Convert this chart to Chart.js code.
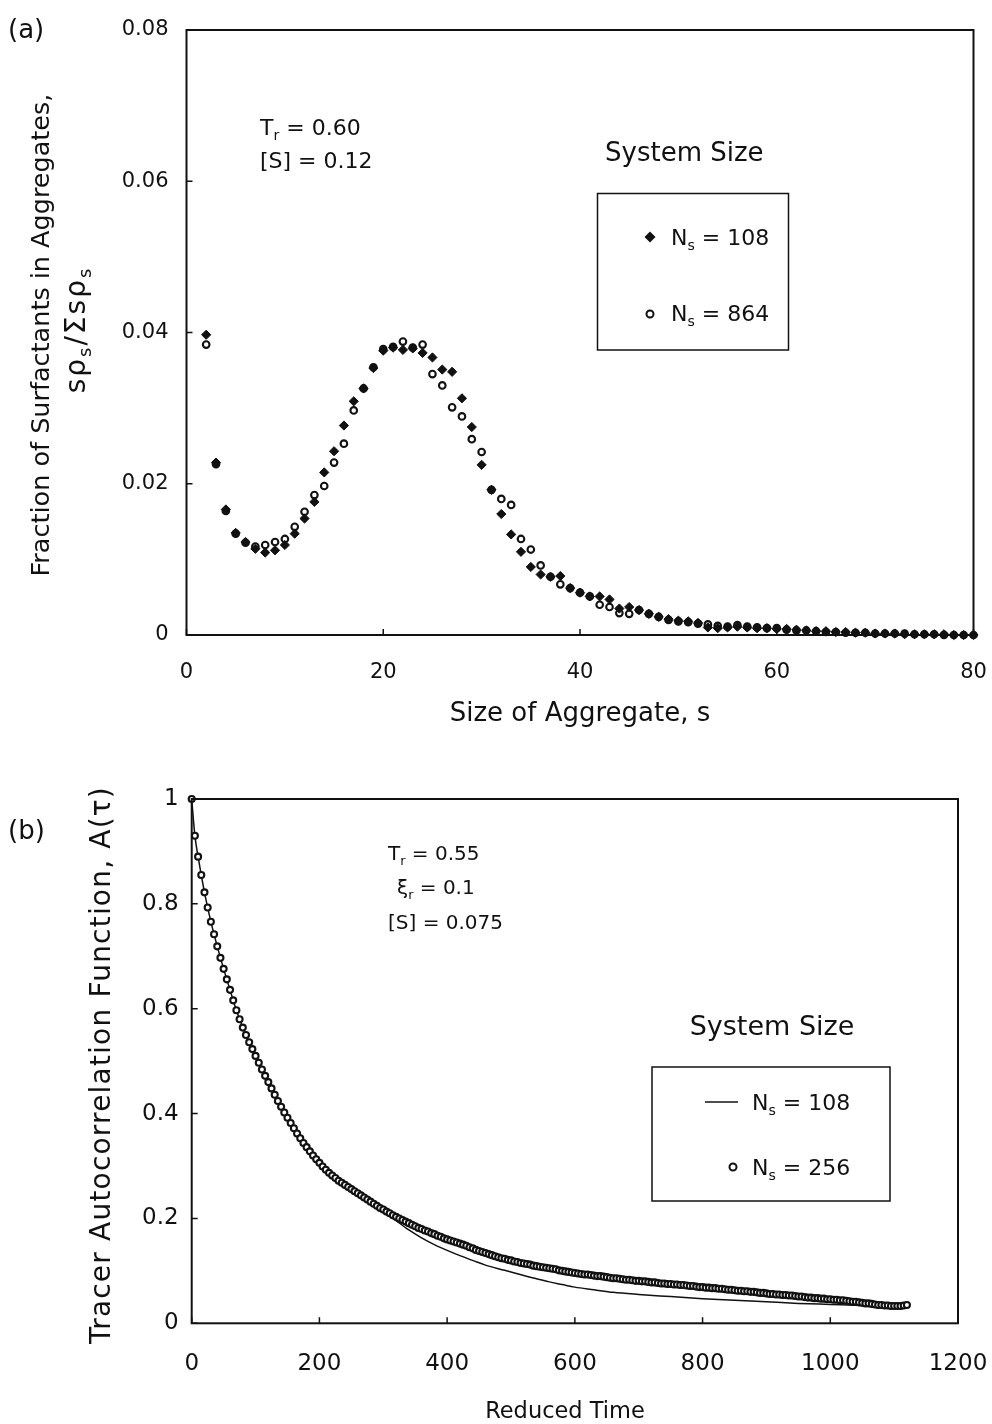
<!DOCTYPE html>
<html>
<head>
<meta charset="utf-8">
<script src="https://cdn.jsdelivr.net/npm/chart.js@4/dist/chart.umd.min.js"></script>
<style>
  html, body { margin: 0; padding: 0; background: #fff; }
  #wrap { position: relative; width: 992px; height: 1424px; }
  canvas { position: absolute; left: 0; }
  #chartA { top: 0; }
  #chartB { top: 740px; }
</style>
</head>
<body>
<div id="wrap">
  <canvas id="chartA" width="992" height="740"></canvas>
  <canvas id="chartB" width="992" height="684"></canvas>
</div>
<script>
// ---- (a) aggregate size distribution ----
var S_SIZE = [2,3,4,5,6,7,8,9,10,11,12,13,14,15,16,17,18,19,20,21,22,23,24,25,26,27,28,29,30,31,
  32,33,34,35,36,37,38,39,40,41,42,43,44,45,46,47,48,49,50,51,52,53,54,55,56,57,58,59,60,61,
  62,63,64,65,66,67,68,69,70,71,72,73,74,75,76,77,78,79,80];
var FRAC_108 = [0.0397,0.0228,0.0166,0.0135,0.0123,0.0114,0.0109,0.0112,0.0119,0.0134,
  0.0154,0.0176,0.0215,0.0243,0.0277,0.0309,0.0326,0.0353,0.0376,0.0380,
  0.0377,0.0379,0.0373,0.0367,0.0351,0.0348,0.0313,0.0275,0.0225,0.0192,
  0.0160,0.0133,0.0110,0.0090,0.0080,0.0077,0.0078,0.0062,0.0056,0.0051,
  0.0051,0.0047,0.0035,0.0037,0.0033,0.0028,0.0024,0.0021,0.0019,0.0018,
  0.0016,0.0010,0.0009,0.0010,0.0011,0.0010,0.0009,0.0009,0.0008,0.0008,
  0.0007,0.0006,0.0005,0.0005,0.0004,0.0004,0.0003,0.0003,0.0002,0.0002,
  0.0002,0.0001,0.0001,0.0001,0.0001,0.0001,0.0000,0.0000,0.0000];
var FRAC_864 = [0.0384,0.0226,0.0164,0.0134,0.0122,0.0117,0.0119,0.0123,0.0127,0.0143,
  0.0163,0.0185,0.0197,0.0228,0.0253,0.0297,0.0326,0.0354,0.0378,0.0381,
  0.0388,0.0380,0.0384,0.0345,0.0330,0.0301,0.0289,0.0259,0.0242,0.0192,
  0.0180,0.0172,0.0127,0.0113,0.0092,0.0077,0.0067,0.0062,0.0056,0.0051,
  0.0040,0.0037,0.0029,0.0028,0.0033,0.0028,0.0024,0.0020,0.0018,0.0017,
  0.0015,0.0014,0.0012,0.0011,0.0013,0.0011,0.0010,0.0009,0.0009,0.0007,
  0.0006,0.0006,0.0005,0.0004,0.0004,0.0003,0.0003,0.0003,0.0002,0.0002,
  0.0002,0.0002,0.0001,0.0001,0.0001,0.0000,0.0000,0.0000,0.0000];

// ---- (b) tracer autocorrelation ----
var TAU_256 = [0,5,10,15,20,25,30,35,40,45,50,55,60,65,70,75,80,85,90,95,
  100,105,110,115,120,125,130,135,140,145,150,155,160,165,170,175,180,185,190,195,
  200,205,210,215,220,225,230,235,240,245,250,255,260,265,270,275,280,285,290,295,
  300,305,310,315,320,325,330,335,340,345,350,355,360,365,370,375,380,385,390,395,
  400,405,410,415,420,425,430,435,440,445,450,455,460,465,470,475,480,485,490,495,
  500,505,510,515,520,525,530,535,540,545,550,555,560,565,570,575,580,585,590,595,
  600,605,610,615,620,625,630,635,640,645,650,655,660,665,670,675,680,685,690,695,
  700,705,710,715,720,725,730,735,740,745,750,755,760,765,770,775,780,785,790,795,
  800,805,810,815,820,825,830,835,840,845,850,855,860,865,870,875,880,885,890,895,
  900,905,910,915,920,925,930,935,940,945,950,955,960,965,970,975,980,985,990,995,
  1000,1005,1010,1015,1020,1025,1030,1035,1040,1045,1050,1055,1060,1065,1070,1075,1080,1085,1090,1095,
  1100,1105,1110,1115,1120];
var A_256 = [1.000,0.930,0.890,0.855,0.822,0.793,0.766,0.742,0.719,0.697,0.676,0.656,0.636,0.616,0.597,0.580,0.564,0.550,0.536,0.523,
  0.510,0.497,0.484,0.472,0.460,0.448,0.436,0.424,0.413,0.402,0.392,0.382,0.372,0.362,0.353,0.344,0.336,0.328,0.320,0.313,
  0.306,0.299,0.293,0.287,0.282,0.277,0.272,0.268,0.264,0.260,0.256,0.252,0.248,0.244,0.240,0.236,0.232,0.228,0.224,0.220,
  0.217,0.213,0.210,0.206,0.203,0.200,0.197,0.194,0.191,0.188,0.185,0.182,0.180,0.177,0.175,0.172,0.170,0.167,0.165,0.162,
  0.160,0.158,0.156,0.154,0.152,0.150,0.148,0.145,0.143,0.140,0.138,0.136,0.134,0.132,0.130,0.128,0.126,0.124,0.123,0.121,
  0.120,0.118,0.117,0.115,0.114,0.113,0.112,0.110,0.109,0.108,0.107,0.106,0.105,0.104,0.103,0.101,0.100,0.099,0.098,0.097,
  0.096,0.095,0.094,0.093,0.093,0.092,0.091,0.090,0.090,0.089,0.088,0.087,0.086,0.086,0.085,0.084,0.083,0.083,0.082,0.081,
  0.081,0.080,0.080,0.079,0.078,0.078,0.077,0.076,0.076,0.075,0.075,0.074,0.074,0.073,0.073,0.072,0.071,0.071,0.070,0.069,
  0.069,0.068,0.068,0.067,0.067,0.066,0.066,0.065,0.064,0.064,0.063,0.062,0.062,0.061,0.061,0.060,0.060,0.059,0.058,0.058,
  0.057,0.056,0.056,0.055,0.055,0.054,0.054,0.053,0.053,0.052,0.051,0.051,0.050,0.049,0.049,0.048,0.048,0.047,0.047,0.046,
  0.046,0.045,0.045,0.044,0.044,0.043,0.042,0.041,0.041,0.040,0.039,0.038,0.038,0.037,0.036,0.035,0.035,0.034,0.034,0.033,
  0.033,0.033,0.033,0.034,0.035];
var TAU_108 = [0,5,10,20,30,40,50,60,70,80,90,100,120,140,160,180,200,220,240,260,280,300,320,340,360,380,
  400,420,440,460,480,500,520,540,560,580,600,630,660,700,750,800,850,900,950,1000,1050,1090];
var A_108 = [1.000,0.930,0.890,0.822,0.766,0.719,0.676,0.636,0.597,0.564,0.536,0.510,0.460,0.413,0.372,0.336,0.306,0.282,0.264,0.248,0.232,0.214,0.196,0.178,0.163,0.150,
  0.139,0.129,0.120,0.111,0.104,0.098,0.091,0.085,0.079,0.074,0.069,0.064,0.059,0.055,0.051,0.047,0.044,0.041,0.038,0.036,0.034,0.033];

var INK = '#111';
var FONT = "'DejaVu Sans', sans-serif";

function pairs(xs, ys) {
  return xs.map(function (x, i) { return { x: x, y: ys[i] }; });
}
function plainNum(v) { return String(+v.toFixed(4)); }

// text with subscripts: parts beginning with '_' are set small and low
function rich(ctx, parts, x, cy, size, align, spacing) {
  var pieces = parts.map(function (p) {
    return p.charAt(0) === '_' ? { t: p.slice(1), s: size * 0.64, dy: size * 0.22 } : { t: p, s: size, dy: 0 };
  });
  ctx.letterSpacing = (spacing || 0) + 'px';
  var w = 0;
  pieces.forEach(function (p) { ctx.font = p.s + 'px ' + FONT; p.w = ctx.measureText(p.t).width; w += p.w; });
  var cx = align === 'center' ? x - w / 2 : (align === 'right' ? x - w : x);
  var base = cy + size * 0.36;
  ctx.textAlign = 'left'; ctx.textBaseline = 'alphabetic'; ctx.fillStyle = INK;
  pieces.forEach(function (p) { ctx.font = p.s + 'px ' + FONT; ctx.fillText(p.t, cx, base + p.dy); cx += p.w; });
  ctx.letterSpacing = '0px';
}
function richV(ctx, parts, cx, cy, size, spacing) {
  ctx.save(); ctx.translate(cx, cy); ctx.rotate(-Math.PI / 2);
  rich(ctx, parts, 0, 0, size, 'center', spacing);
  ctx.restore();
}
function frameAndTicks(chart) {
  var ctx = chart.ctx, a = chart.chartArea, x = chart.scales.x, y = chart.scales.y;
  ctx.save();
  ctx.strokeStyle = INK; ctx.lineWidth = 2;
  ctx.strokeRect(a.left, a.top, a.right - a.left, a.bottom - a.top);
  ctx.lineWidth = 1.5; ctx.beginPath();
  x.ticks.forEach(function (t) { var px = x.getPixelForValue(t.value); ctx.moveTo(px, a.bottom); ctx.lineTo(px, a.bottom - 6); });
  y.ticks.forEach(function (t) { var py = y.getPixelForValue(t.value); ctx.moveTo(a.left, py); ctx.lineTo(a.left + 6, py); });
  ctx.stroke();
  ctx.restore();
}
function diamond(ctx, x, y, r) {
  ctx.beginPath(); ctx.moveTo(x - r, y); ctx.lineTo(x, y - r); ctx.lineTo(x + r, y); ctx.lineTo(x, y + r); ctx.closePath();
  ctx.fillStyle = INK; ctx.fill();
}
function ring(ctx, x, y, r) {
  ctx.beginPath(); ctx.arc(x, y, r, 0, Math.PI * 2);
  ctx.fillStyle = '#fff'; ctx.fill(); ctx.lineWidth = 2; ctx.strokeStyle = INK; ctx.stroke();
}

var decorA = {
  id: 'decorA',
  afterDraw: function (chart) {
    var ctx = chart.ctx;
    frameAndTicks(chart);
    ctx.save();
    rich(ctx, ['(a)'], 8, 29, 26, 'left');
    rich(ctx, ['T', '_r', ' = 0.60'], 260, 127, 22, 'left');
    rich(ctx, ['[S] = 0.12'], 260, 160, 22, 'left');
    rich(ctx, ['System Size'], 605, 152, 26, 'left');
    ctx.lineWidth = 1.5; ctx.strokeStyle = INK;
    ctx.strokeRect(597.5, 193.5, 191, 156.5);
    diamond(ctx, 650, 237, 5.5);
    rich(ctx, ['N', '_s', ' = 108'], 671, 237, 22, 'left');
    ring(ctx, 650, 314, 3.5);
    rich(ctx, ['N', '_s', ' = 864'], 671, 313, 22, 'left');
    rich(ctx, ['Size of Aggregate, s'], 580, 712, 26, 'center');
    richV(ctx, ['Fraction of Surfactants in Aggregates,'], 40, 335, 25.5);
    richV(ctx, ['s\u03c1', '_s', '/\u03a3s\u03c1', '_s'], 75, 330, 28, 2);
    ctx.restore();
  }
};

var OY = 740; // top of the second canvas on the page
var decorB = {
  id: 'decorB',
  afterDraw: function (chart) {
    var ctx = chart.ctx;
    frameAndTicks(chart);
    ctx.save();
    ctx.translate(0, -OY);
    rich(ctx, ['(b)'], 8, 830, 26, 'left');
    rich(ctx, ['T', '_r', ' = 0.55'], 388, 853, 20, 'left');
    rich(ctx, ['\u03be', '_r', ' = 0.1'], 397, 887, 20, 'left');
    rich(ctx, ['[S] = 0.075'], 388, 922, 20, 'left');
    rich(ctx, ['System Size'], 772, 1025, 27, 'center');
    ctx.lineWidth = 1.5; ctx.strokeStyle = INK;
    ctx.strokeRect(652, 1067, 238, 134);
    ctx.beginPath(); ctx.moveTo(705, 1102); ctx.lineTo(738, 1102); ctx.stroke();
    rich(ctx, ['N', '_s', ' = 108'], 752, 1102, 22, 'left');
    ring(ctx, 733, 1167, 3.5);
    rich(ctx, ['N', '_s', ' = 256'], 752, 1167, 22, 'left');
    rich(ctx, ['Reduced Time'], 565, 1410, 22.5, 'center');
    richV(ctx, ['Tracer Autocorrelation Function, A(\u03c4)'], 100, 1065, 28, 1.2);
    ctx.restore();
  }
};

function axisCfg(min, max, step, size, pad, fit) {
  return {
    type: 'linear', min: min, max: max,
    ticks: { stepSize: step, padding: pad, color: INK, font: { family: FONT, size: size }, callback: plainNum, maxRotation: 0 },
    grid: { display: false, drawTicks: false },
    border: { display: false },
    afterFit: fit
  };
}
// pin the axis boxes so the plot frames land where the figure has them
function fixX(h) { return function (s) { s.height = h; s.paddingLeft = 0; s.paddingRight = 0; }; }
function fixY(w) { return function (s) { s.width = w; s.paddingTop = 0; s.paddingBottom = 0; }; }

new Chart(document.getElementById('chartA'), {
  type: 'scatter',
  data: {
    datasets: [
      { label: 'Ns = 108', data: pairs(S_SIZE, FRAC_108), pointStyle: 'rectRot', pointRadius: 4.6,
        backgroundColor: INK, borderColor: INK, borderWidth: 1, clip: false },
      { label: 'Ns = 864', data: pairs(S_SIZE, FRAC_864), pointStyle: 'circle', pointRadius: 3.3,
        backgroundColor: '#fff', borderColor: INK, borderWidth: 2.1, clip: false }
    ]
  },
  options: {
    responsive: false, animation: false, events: [],
    layout: { padding: { left: 0, top: 30, right: 18.5, bottom: 0 } },
    plugins: { legend: { display: false }, tooltip: { enabled: false } },
    scales: {
      x: axisCfg(0, 80, 20, 21, 25, fixX(105)),
      y: axisCfg(0, 0.08, 0.02, 21, 18, fixY(186.5))
    }
  },
  plugins: [decorA]
});

new Chart(document.getElementById('chartB'), {
  type: 'scatter',
  data: {
    datasets: [
      { label: 'Ns = 256', data: pairs(TAU_256, A_256), pointStyle: 'circle', pointRadius: 3,
        backgroundColor: '#fff', borderColor: INK, borderWidth: 2.1, clip: false },
      { label: 'Ns = 108', data: pairs(TAU_108, A_108), showLine: true, pointRadius: 0,
        borderColor: INK, borderWidth: 1.5, cubicInterpolationMode: 'monotone', clip: false }
    ]
  },
  options: {
    responsive: false, animation: false, events: [],
    layout: { padding: { left: 0, top: 59, right: 34, bottom: 0 } },
    plugins: { legend: { display: false }, tooltip: { enabled: false } },
    scales: {
      x: axisCfg(0, 1200, 200, 23, 27, fixX(100.7)),
      y: axisCfg(0, 1, 0.2, 23, 13, fixY(191.7))
    }
  },
  plugins: [decorB]
});
</script>
</body>
</html>
